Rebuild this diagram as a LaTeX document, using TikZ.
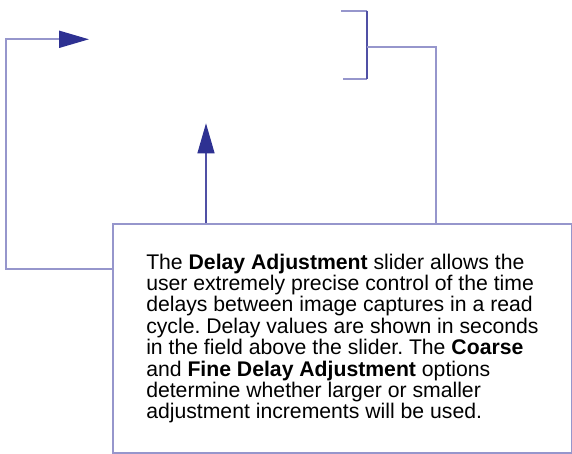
\documentclass[tikz,border=0pt]{standalone}
\usepackage{fontspec}
\setmainfont{Liberation Sans}
\usepackage{xcolor}
\usepackage{tikz}
\usetikzlibrary{positioning, calc, arrows.meta}

\definecolor{calloutline}{RGB}{150,150,204}
\definecolor{calloutdark}{RGB}{80,80,165}
\definecolor{callouthead}{RGB}{46,49,146}

\frenchspacing

\begin{document}
\begin{tikzpicture}[x=1pt, y=-1pt,
    callout/.style={calloutline, line width=1.9pt},
    calloutstem/.style={calloutdark, line width=1.2pt},
    pointer/.style={-{Triangle[length=30pt, width=17pt, color=callouthead]}},
    notebox/.style={draw=calloutline, line width=1.9pt, fill=white, align=left,
        minimum width=459pt, minimum height=229pt, inner sep=0pt,
        font=\fontsize{21.2}{21.4}\selectfont}]

        \useasboundingbox (0,0) rectangle (572,454);

        % Description box
        \node[notebox, anchor=north west] (note) at (112,223) {The \textbf{Delay Adjustment} slider allows the\\
user extremely precise control of the time\\
delays between image captures in a read\\
cycle. Delay values are shown in seconds\\
in the field above the slider. The \textbf{Coarse}\\
and \textbf{Fine Delay Adjustment} options\\
determine whether larger or smaller\\
adjustment increments will be used.};

        % Points that the callouts reach
        \coordinate (fieldtip) at (89,39.3);
        \coordinate (leftbend) at (5.7,269);
        \coordinate (slidertip) at (206,123.3);
        \coordinate (bracemid) at (367,46.7);
        \coordinate (bracedrop) at (436,46.7);

        % Arrow to the delay field
        \draw[callout, pointer] (note.north west |- leftbend) -- (leftbend) |- (fieldtip);

        % Arrow to the slider
        \draw[calloutstem, pointer] (slidertip |- note.north) -- (slidertip);

        % Bracket round the options
        \draw[callout] (341,10.7) -- (367,10.7);
        \draw[callout] (343,79) -- (367,79);
        \draw[calloutstem, line width=1.6pt] (367,10.7) -- (367,79);
        \draw[callout] (bracemid) -- (bracedrop) -- (bracedrop |- note.north);

    \end{tikzpicture}
\end{document}
